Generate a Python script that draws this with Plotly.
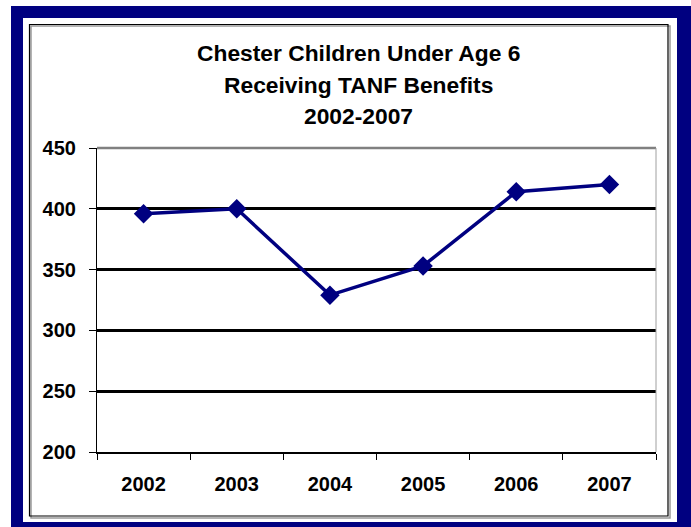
import plotly.graph_objects as go

years = ["2002", "2003", "2004", "2005", "2006", "2007"]
children = [396, 400, 329, 353, 414, 420]
y_ticks = [200, 250, 300, 350, 400, 450]
title_lines = ["Chester Children Under Age 6", "Receiving TANF Benefits", "2002-2007"]

W, H = 691, 527
L, R, T, B = 97, 656, 148, 452
pw, ph = R - L, B - T


def px(x):
    return (x - L) / pw


def py(y):
    return (B - y) / ph


NAVY = "#000080"
FONT = "Liberation Sans, Arial, sans-serif"

fig = go.Figure()
fig.add_trace(go.Scatter(
    x=years, y=children, mode="lines+markers",
    line=dict(color=NAVY, width=3.5),
    marker=dict(symbol="diamond", size=15, color=NAVY),
    cliponaxis=False, hoverinfo="x+y",
))

shapes = [
    dict(type="rect", xref="paper", yref="paper", x0=px(11), x1=px(691), y0=py(6), y1=py(527),
         fillcolor=NAVY, line=dict(width=0), layer="below"),
    dict(type="rect", xref="paper", yref="paper", x0=px(23), x1=px(677), y0=py(18), y1=py(522),
         fillcolor="white", line=dict(width=0), layer="below"),
    # shadow of inner border
    dict(type="rect", xref="paper", yref="paper", x0=px(31), x1=px(670), y0=py(26), y1=py(518),
         fillcolor="rgba(0,0,0,0)", line=dict(color="#9a9a9a", width=1.5), layer="below"),
    dict(type="rect", xref="paper", yref="paper", x0=px(29.5), x1=px(668), y0=py(24.5), y1=py(516),
         fillcolor="rgba(0,0,0,0)", line=dict(color="black", width=1.2), layer="below"),
    # top gray line and right gray border of plot area
    dict(type="line", xref="paper", yref="paper", x0=0, x1=1, y0=1, y1=1,
         line=dict(color="#808080", width=2.5)),
    dict(type="line", xref="paper", yref="paper", x0=1, x1=1, y0=0, y1=1,
         line=dict(color="#a0a0a0", width=1)),
]

annotations = []
for i, t in enumerate(title_lines):
    annotations.append(dict(
        text="<b>%s</b>" % t, xref="paper", yref="paper",
        x=px(358), y=py(53 + 31.5 * i), xanchor="center", yanchor="middle",
        showarrow=False, font=dict(family=FONT, size=22.8, color="black"),
    ))

fig.update_layout(
    width=W, height=H,
    margin=dict(l=L, r=W - R, t=T, b=H - B, pad=0),
    paper_bgcolor="white", plot_bgcolor="rgba(0,0,0,0)",
    showlegend=False,
    shapes=shapes, annotations=annotations,
    font=dict(family=FONT, color="black"),
    xaxis=dict(
        type="category", range=[-0.5, 5.5], tickson="boundaries",
        ticks="outside", ticklen=6, tickcolor="black", tickwidth=1,
        showline=True, linecolor="black", linewidth=2,
        showgrid=False, tickfont=dict(family=FONT, size=20, color="black"),
        ticklabelstandoff=13, fixedrange=True,
    ),
    yaxis=dict(
        range=[200, 450], tickvals=y_ticks, ticktext=["<b>%d</b>" % v for v in y_ticks],
        ticks="outside", ticklen=7, tickcolor="black", tickwidth=1,
        showline=True, linecolor="black", linewidth=1.2,
        showgrid=True, gridcolor="black", gridwidth=2.5, zeroline=False,
        tickfont=dict(family=FONT, size=20, color="black"),
        ticklabelstandoff=9, fixedrange=True,
    ),
)
fig.update_xaxes(ticktext=["<b>%s</b>" % y for y in years], tickvals=years)

fig.write_html("out.html", config={"displayModeBar": False},
               post_script="document.body.style.margin='0';document.body.style.overflow='hidden';")
